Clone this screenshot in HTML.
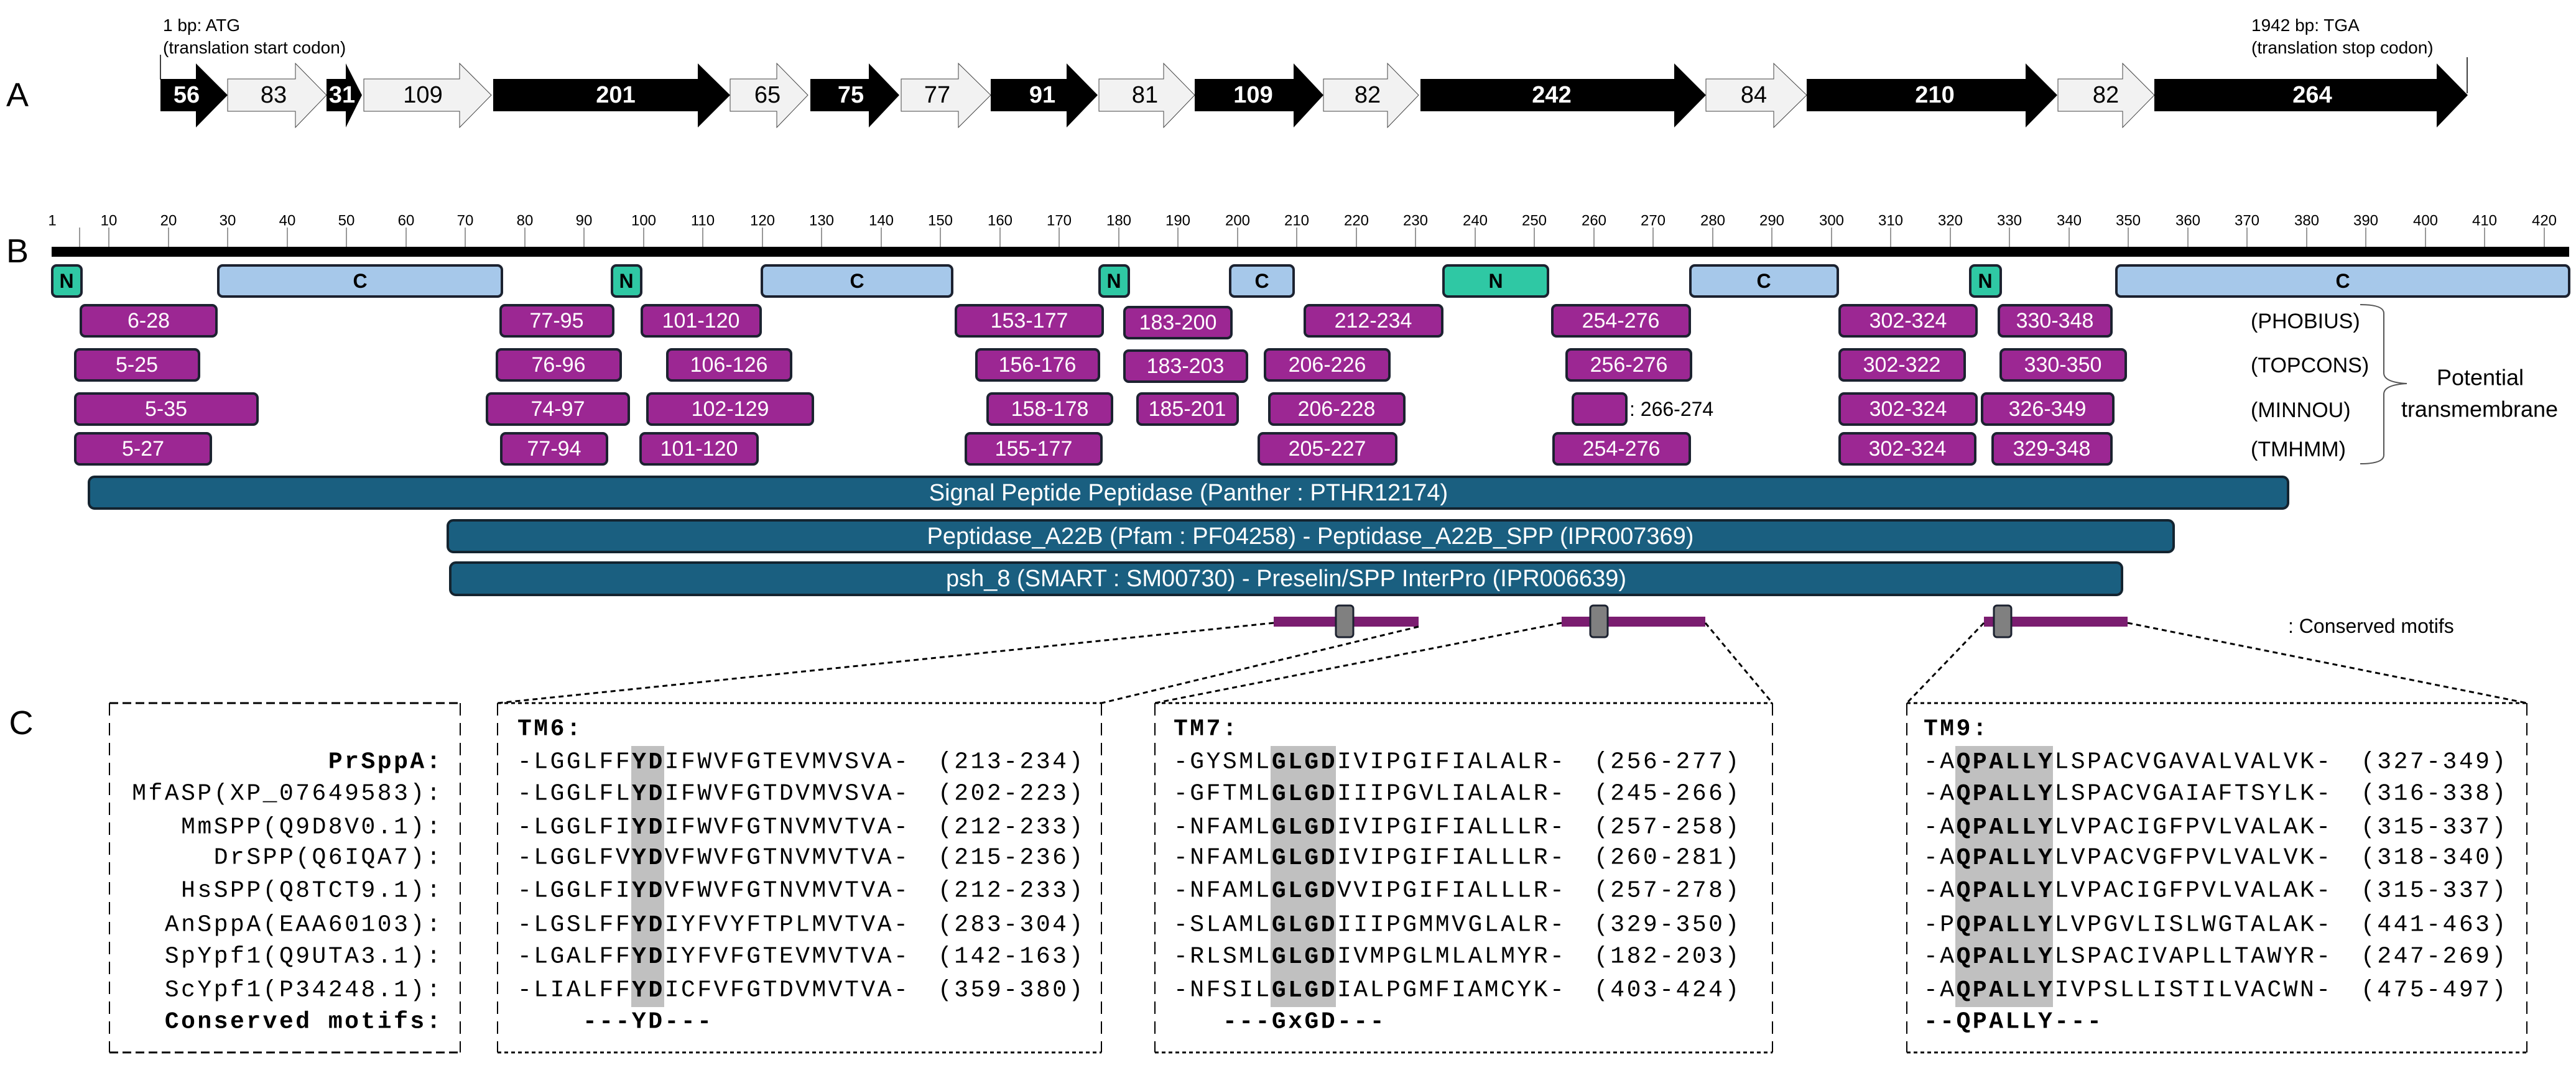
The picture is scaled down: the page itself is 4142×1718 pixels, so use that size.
<!DOCTYPE html>
<html><head><meta charset="utf-8"><style>
html,body{margin:0;padding:0;background:#fff;}
svg{display:block;}
.s{font-family:"Liberation Sans",sans-serif;}
.m{font-family:"Liberation Mono",monospace;font-size:38px;letter-spacing:3.5px;}
.tm rect{fill:#9c2793;stroke:#1c2230;stroke-width:4;}
.tm text{fill:#fff;font-family:"Liberation Sans",sans-serif;font-size:34px;text-anchor:middle;dominant-baseline:central;}
.dm rect{stroke:#1c2230;stroke-width:4;}
.dm text{font-family:"Liberation Sans",sans-serif;font-size:32px;font-weight:bold;text-anchor:middle;dominant-baseline:central;}
.bb rect{fill:#1a5f80;stroke:#142430;stroke-width:4;}
.bb text{fill:#fff;font-family:"Liberation Sans",sans-serif;font-size:38px;text-anchor:middle;dominant-baseline:central;}
</style></head><body>
<svg width="4142" height="1718" viewBox="0 0 4142 1718" xmlns="http://www.w3.org/2000/svg">
<!-- Labels -->
<g class="s" font-size="54" fill="#000" text-anchor="middle" dominant-baseline="central">
<text x="28" y="153">A</text><text x="28" y="404">B</text><text x="34" y="1163">C</text>
</g>
<!-- Annotations -->
<g class="s" font-size="28" fill="#000">
<text x="262" y="50">1 bp: ATG</text><text x="262" y="86">(translation start codon)</text>
<text x="3620" y="50">1942 bp: TGA</text><text x="3620" y="86">(translation stop codon)</text>
</g>
<line x1="258" y1="88" x2="258" y2="128" stroke="#000" stroke-width="1.5"/>
<line x1="3967" y1="92" x2="3967" y2="150" stroke="#000" stroke-width="1.5"/>
<!-- Exons -->
<g id="exons" class="s" font-size="38" text-anchor="middle" dominant-baseline="central">
<polygon points="258,127 315,127 315,102 366,153 315,205 315,179 258,179" fill="#000"/><text x="300" y="153" fill="#fff" font-weight="bold">56</text>
<polygon points="366,127 475,127 475,102 525,153 475,205 475,179 366,179" fill="#f2f2f2" stroke="#444" stroke-width="1"/><text x="440" y="153">83</text>
<polygon points="525,127 556,127 556,102 582,153 556,205 556,179 525,179" fill="#000"/><text x="550" y="153" fill="#fff" font-weight="bold">31</text>
<polygon points="585,127 739,127 739,102 790,153 739,205 739,179 585,179" fill="#f2f2f2" stroke="#444" stroke-width="1"/><text x="680" y="153">109</text>
<polygon points="793,127 1122,127 1122,102 1174,153 1122,205 1122,179 793,179" fill="#000"/><text x="990" y="153" fill="#fff" font-weight="bold">201</text>
<polygon points="1174,127 1249,127 1249,102 1299,153 1249,205 1249,179 1174,179" fill="#f2f2f2" stroke="#444" stroke-width="1"/><text x="1234" y="153">65</text>
<polygon points="1303,127 1397,127 1397,102 1446,153 1397,205 1397,179 1303,179" fill="#000"/><text x="1368" y="153" fill="#fff" font-weight="bold">75</text>
<polygon points="1449,127 1541,127 1541,102 1593,153 1541,205 1541,179 1449,179" fill="#f2f2f2" stroke="#444" stroke-width="1"/><text x="1507" y="153">77</text>
<polygon points="1593,127 1715,127 1715,102 1765,153 1715,205 1715,179 1593,179" fill="#000"/><text x="1676" y="153" fill="#fff" font-weight="bold">91</text>
<polygon points="1767,127 1871,127 1871,102 1921,153 1871,205 1871,179 1767,179" fill="#f2f2f2" stroke="#444" stroke-width="1"/><text x="1841" y="153">81</text>
<polygon points="1921,127 2080,127 2080,102 2128,153 2080,205 2080,179 1921,179" fill="#000"/><text x="2015" y="153" fill="#fff" font-weight="bold">109</text>
<polygon points="2128,127 2231,127 2231,102 2281,153 2231,205 2231,179 2128,179" fill="#f2f2f2" stroke="#444" stroke-width="1"/><text x="2199" y="153">82</text>
<polygon points="2284,127 2692,127 2692,102 2743,153 2692,205 2692,179 2284,179" fill="#000"/><text x="2495" y="153" fill="#fff" font-weight="bold">242</text>
<polygon points="2743,127 2852,127 2852,102 2905,153 2852,205 2852,179 2743,179" fill="#f2f2f2" stroke="#444" stroke-width="1"/><text x="2820" y="153">84</text>
<polygon points="2905,127 3257,127 3257,102 3308,153 3257,205 3257,179 2905,179" fill="#000"/><text x="3111" y="153" fill="#fff" font-weight="bold">210</text>
<polygon points="3309,127 3413,127 3413,102 3464,153 3413,205 3413,179 3309,179" fill="#f2f2f2" stroke="#444" stroke-width="1"/><text x="3386" y="153">82</text>
<polygon points="3464,127 3918,127 3918,102 3968,153 3918,205 3918,179 3464,179" fill="#000"/><text x="3718" y="153" fill="#fff" font-weight="bold">264</text>
</g>
<!-- Ruler -->
<g stroke="#777" stroke-width="1.5">
<line x1="128" y1="366" x2="128" y2="398"/>
<line x1="175" y1="366" x2="175" y2="398"/><line x1="271" y1="366" x2="271" y2="398"/><line x1="366" y1="366" x2="366" y2="398"/><line x1="462" y1="366" x2="462" y2="398"/><line x1="557" y1="366" x2="557" y2="398"/><line x1="653" y1="366" x2="653" y2="398"/><line x1="748" y1="366" x2="748" y2="398"/><line x1="844" y1="366" x2="844" y2="398"/><line x1="939" y1="366" x2="939" y2="398"/><line x1="1035" y1="366" x2="1035" y2="398"/><line x1="1130" y1="366" x2="1130" y2="398"/><line x1="1226" y1="366" x2="1226" y2="398"/><line x1="1321" y1="366" x2="1321" y2="398"/><line x1="1417" y1="366" x2="1417" y2="398"/><line x1="1512" y1="366" x2="1512" y2="398"/><line x1="1608" y1="366" x2="1608" y2="398"/><line x1="1703" y1="366" x2="1703" y2="398"/><line x1="1799" y1="366" x2="1799" y2="398"/><line x1="1894" y1="366" x2="1894" y2="398"/><line x1="1990" y1="366" x2="1990" y2="398"/><line x1="2085" y1="366" x2="2085" y2="398"/><line x1="2181" y1="366" x2="2181" y2="398"/><line x1="2276" y1="366" x2="2276" y2="398"/><line x1="2372" y1="366" x2="2372" y2="398"/><line x1="2467" y1="366" x2="2467" y2="398"/><line x1="2563" y1="366" x2="2563" y2="398"/><line x1="2658" y1="366" x2="2658" y2="398"/><line x1="2754" y1="366" x2="2754" y2="398"/><line x1="2849" y1="366" x2="2849" y2="398"/><line x1="2945" y1="366" x2="2945" y2="398"/><line x1="3040" y1="366" x2="3040" y2="398"/><line x1="3136" y1="366" x2="3136" y2="398"/><line x1="3231" y1="366" x2="3231" y2="398"/><line x1="3327" y1="366" x2="3327" y2="398"/><line x1="3422" y1="366" x2="3422" y2="398"/><line x1="3518" y1="366" x2="3518" y2="398"/><line x1="3613" y1="366" x2="3613" y2="398"/><line x1="3709" y1="366" x2="3709" y2="398"/><line x1="3804" y1="366" x2="3804" y2="398"/><line x1="3900" y1="366" x2="3900" y2="398"/><line x1="3995" y1="366" x2="3995" y2="398"/><line x1="4091" y1="366" x2="4091" y2="398"/>
</g>
<g class="s" font-size="24" text-anchor="middle" dominant-baseline="central" fill="#000">
<text x="84" y="355">1</text><text x="175" y="355">10</text><text x="271" y="355">20</text><text x="366" y="355">30</text><text x="462" y="355">40</text><text x="557" y="355">50</text><text x="653" y="355">60</text><text x="748" y="355">70</text><text x="844" y="355">80</text><text x="939" y="355">90</text><text x="1035" y="355">100</text><text x="1130" y="355">110</text><text x="1226" y="355">120</text><text x="1321" y="355">130</text><text x="1417" y="355">140</text><text x="1512" y="355">150</text><text x="1608" y="355">160</text><text x="1703" y="355">170</text><text x="1799" y="355">180</text><text x="1894" y="355">190</text><text x="1990" y="355">200</text><text x="2085" y="355">210</text><text x="2181" y="355">220</text><text x="2276" y="355">230</text><text x="2372" y="355">240</text><text x="2467" y="355">250</text><text x="2563" y="355">260</text><text x="2658" y="355">270</text><text x="2754" y="355">280</text><text x="2849" y="355">290</text><text x="2945" y="355">300</text><text x="3040" y="355">310</text><text x="3136" y="355">320</text><text x="3231" y="355">330</text><text x="3327" y="355">340</text><text x="3422" y="355">350</text><text x="3518" y="355">360</text><text x="3613" y="355">370</text><text x="3709" y="355">380</text><text x="3804" y="355">390</text><text x="3900" y="355">400</text><text x="3995" y="355">410</text><text x="4091" y="355">420</text>
</g>
<rect x="83" y="397" width="4048" height="16" fill="#000"/>
<!-- N / C domains -->
<g class="dm">
<rect x="84" y="427" width="47" height="50" rx="7" fill="#2fc8a4"/><text x="107" y="452">N</text>
<rect x="351" y="427" width="456" height="50" rx="7" fill="#a6c8ea"/><text x="579" y="452">C</text>
<rect x="984" y="427" width="47" height="50" rx="7" fill="#2fc8a4"/><text x="1007" y="452">N</text>
<rect x="1225" y="427" width="306" height="50" rx="7" fill="#a6c8ea"/><text x="1378" y="452">C</text>
<rect x="1768" y="427" width="47" height="50" rx="7" fill="#2fc8a4"/><text x="1791" y="452">N</text>
<rect x="1978" y="427" width="102" height="50" rx="7" fill="#a6c8ea"/><text x="2029" y="452">C</text>
<rect x="2321" y="427" width="168" height="50" rx="7" fill="#2fc8a4"/><text x="2405" y="452">N</text>
<rect x="2718" y="427" width="237" height="50" rx="7" fill="#a6c8ea"/><text x="2836" y="452">C</text>
<rect x="3168" y="427" width="49" height="50" rx="7" fill="#2fc8a4"/><text x="3192" y="452">N</text>
<rect x="3403" y="427" width="728" height="50" rx="7" fill="#a6c8ea"/><text x="3767" y="452">C</text>
</g>
<!-- TM boxes -->
<g class="tm">
<rect x="130" y="491" width="218" height="50" rx="7"/><text x="239" y="516">6-28</text>
<rect x="805" y="491" width="181" height="50" rx="7"/><text x="895" y="516">77-95</text>
<rect x="1032" y="491" width="191" height="50" rx="7"/><text x="1127" y="516">101-120</text>
<rect x="1537" y="491" width="236" height="50" rx="7"/><text x="1655" y="516">153-177</text>
<rect x="1808" y="494" width="172" height="50" rx="7"/><text x="1894" y="519">183-200</text>
<rect x="2098" y="491" width="221" height="50" rx="7"/><text x="2208" y="516">212-234</text>
<rect x="2496" y="491" width="221" height="50" rx="7"/><text x="2606" y="516">254-276</text>
<rect x="2958" y="491" width="220" height="50" rx="7"/><text x="3068" y="516">302-324</text>
<rect x="3214" y="491" width="181" height="50" rx="7"/><text x="3304" y="516">330-348</text>

<rect x="121" y="562" width="199" height="50" rx="7"/><text x="220" y="587">5-25</text>
<rect x="799" y="562" width="199" height="50" rx="7"/><text x="898" y="587">76-96</text>
<rect x="1073" y="562" width="199" height="50" rx="7"/><text x="1172" y="587">106-126</text>
<rect x="1570" y="562" width="197" height="50" rx="7"/><text x="1668" y="587">156-176</text>
<rect x="1808" y="564" width="197" height="50" rx="7"/><text x="1906" y="589">183-203</text>
<rect x="2034" y="562" width="200" height="50" rx="7"/><text x="2134" y="587">206-226</text>
<rect x="2519" y="562" width="200" height="50" rx="7"/><text x="2619" y="587">256-276</text>
<rect x="2958" y="562" width="201" height="50" rx="7"/><text x="3058" y="587">302-322</text>
<rect x="3217" y="562" width="201" height="50" rx="7"/><text x="3317" y="587">330-350</text>

<rect x="121" y="633" width="293" height="50" rx="7"/><text x="267" y="658">5-35</text>
<rect x="783" y="633" width="228" height="50" rx="7"/><text x="897" y="658">74-97</text>
<rect x="1041" y="633" width="266" height="50" rx="7"/><text x="1174" y="658">102-129</text>
<rect x="1588" y="633" width="200" height="50" rx="7"/><text x="1688" y="658">158-178</text>
<rect x="1829" y="633" width="161" height="50" rx="7"/><text x="1909" y="658">185-201</text>
<rect x="2041" y="633" width="217" height="50" rx="7"/><text x="2149" y="658">206-228</text>
<rect x="2529" y="633" width="86" height="50" rx="7"/>
<rect x="2958" y="633" width="220" height="50" rx="7"/><text x="3068" y="658">302-324</text>
<rect x="3187" y="633" width="211" height="50" rx="7"/><text x="3292" y="658">326-349</text>

<rect x="121" y="697" width="218" height="50" rx="7"/><text x="230" y="722">5-27</text>
<rect x="806" y="697" width="170" height="50" rx="7"/><text x="891" y="722">77-94</text>
<rect x="1030" y="697" width="188" height="50" rx="7"/><text x="1124" y="722">101-120</text>
<rect x="1553" y="697" width="218" height="50" rx="7"/><text x="1662" y="722">155-177</text>
<rect x="2024" y="697" width="221" height="50" rx="7"/><text x="2134" y="722">205-227</text>
<rect x="2498" y="697" width="219" height="50" rx="7"/><text x="2607" y="722">254-276</text>
<rect x="2958" y="697" width="218" height="50" rx="7"/><text x="3067" y="722">302-324</text>
<rect x="3204" y="697" width="191" height="50" rx="7"/><text x="3299" y="722">329-348</text>
</g>
<text x="2620" y="658" class="s" font-size="32" dominant-baseline="central">: 266-274</text>
<!-- Tool labels + brace -->
<g class="s" font-size="34" dominant-baseline="central" fill="#000">
<text x="3619" y="517">(PHOBIUS)</text><text x="3619" y="588">(TOPCONS)</text><text x="3619" y="660">(MINNOU)</text><text x="3619" y="723">(TMHMM)</text>
<text x="3988" y="607" text-anchor="middle" font-size="36">Potential</text>
<text x="3987" y="658" text-anchor="middle" font-size="36">transmembrane</text>
</g>
<path d="M3795,490 q38,0 38,14 L3833,600 q0,15 37,17 q-37,2 -37,17 L3833,732 q0,14 -38,14" fill="none" stroke="#555" stroke-width="2"/>
<!-- Blue bars -->
<g class="bb">
<rect x="143" y="767" width="3536" height="51" rx="9"/><text x="1911" y="793">Signal Peptide Peptidase (Panther : PTHR12174)</text>
<rect x="720" y="837" width="2775" height="51" rx="9"/><text x="2107" y="863">Peptidase_A22B (Pfam : PF04258) - Peptidase_A22B_SPP (IPR007369)</text>
<rect x="724" y="905" width="2688" height="52" rx="9"/><text x="2068" y="931">psh_8 (SMART : SM00730) - Preselin/SPP InterPro (IPR006639)</text>
</g>
<!-- Motif bars -->
<g>
<rect x="2048" y="992" width="233" height="16" fill="#7b1d70"/>
<rect x="2148" y="974" width="28" height="51" rx="5" fill="#808080" stroke="#1c2230" stroke-width="3"/>
<rect x="2511" y="992" width="231" height="16" fill="#7b1d70"/>
<rect x="2557" y="974" width="28" height="51" rx="5" fill="#808080" stroke="#1c2230" stroke-width="3"/>
<rect x="3190" y="992" width="231" height="16" fill="#7b1d70"/>
<rect x="3206" y="974" width="28" height="51" rx="5" fill="#808080" stroke="#1c2230" stroke-width="3"/>
</g>
<text x="3679" y="1007" class="s" font-size="32" dominant-baseline="central">: Conserved motifs</text>
<!-- connectors -->
<g stroke="#000" stroke-width="3" stroke-dasharray="8,6" fill="none">
<line x1="2048" y1="1002" x2="800" y2="1131"/>
<line x1="2281" y1="1008" x2="1771" y2="1131"/>
<line x1="2511" y1="1002" x2="1857" y2="1131"/>
<line x1="2742" y1="1002" x2="2850" y2="1131"/>
<line x1="3190" y1="1002" x2="3066" y2="1131"/>
<line x1="3421" y1="1002" x2="4063" y2="1131"/>
</g>
<!-- boxes -->
<g fill="none" stroke="#000">
<line x1="176" y1="1131" x2="740" y2="1131" stroke-width="3" stroke-dasharray="14,7"/>
<line x1="176" y1="1693" x2="740" y2="1693" stroke-width="3" stroke-dasharray="14,7"/>
<line x1="176" y1="1131" x2="176" y2="1693" stroke-width="2" stroke-dasharray="20,12"/>
<line x1="740" y1="1131" x2="740" y2="1693" stroke-width="2" stroke-dasharray="20,12"/>

<line x1="800" y1="1131" x2="1771" y2="1131" stroke-width="3" stroke-dasharray="6,5"/>
<line x1="800" y1="1693" x2="1771" y2="1693" stroke-width="3" stroke-dasharray="6,5"/>
<line x1="800" y1="1131" x2="800" y2="1693" stroke-width="2" stroke-dasharray="20,12"/>
<line x1="1771" y1="1131" x2="1771" y2="1693" stroke-width="2" stroke-dasharray="20,12"/>

<line x1="1857" y1="1131" x2="2850" y2="1131" stroke-width="3" stroke-dasharray="6,5"/>
<line x1="1857" y1="1693" x2="2850" y2="1693" stroke-width="3" stroke-dasharray="6,5"/>
<line x1="1857" y1="1131" x2="1857" y2="1693" stroke-width="2" stroke-dasharray="20,12"/>
<line x1="2850" y1="1131" x2="2850" y2="1693" stroke-width="2" stroke-dasharray="20,12"/>

<line x1="3066" y1="1131" x2="4063" y2="1131" stroke-width="3" stroke-dasharray="6,5"/>
<line x1="3066" y1="1693" x2="4063" y2="1693" stroke-width="3" stroke-dasharray="6,5"/>
<line x1="3066" y1="1131" x2="3066" y2="1693" stroke-width="2" stroke-dasharray="20,12"/>
<line x1="4063" y1="1131" x2="4063" y2="1693" stroke-width="2" stroke-dasharray="20,12"/>
</g>
<!-- highlights -->
<rect x="1015" y="1200" width="53" height="420" fill="#c0c0c0"/>
<rect x="2043" y="1200" width="105" height="420" fill="#c0c0c0"/>
<rect x="3144" y="1200" width="157" height="420" fill="#c0c0c0"/>
<!-- names -->
<g class="m" text-anchor="end" dominant-baseline="central" fill="#000">
<text x="712" y="1226" font-weight="bold">PrSppA:</text>
<text x="712" y="1277">MfASP(XP_07649583):</text>
<text x="712" y="1331">MmSPP(Q9D8V0.1):</text>
<text x="712" y="1380">DrSPP(Q6IQA7):</text>
<text x="712" y="1433">HsSPP(Q8TCT9.1):</text>
<text x="712" y="1488">AnSppA(EAA60103):</text>
<text x="712" y="1539">SpYpf1(Q9UTA3.1):</text>
<text x="712" y="1593">ScYpf1(P34248.1):</text>
<text x="712" y="1644" font-weight="bold">Conserved motifs:</text>
</g>
<!-- TM6 -->
<g class="m" dominant-baseline="central" fill="#000">
<text x="832" y="1173" font-weight="bold">TM6:</text>
<text x="832" y="1226">-LGGLFF<tspan font-weight="bold">YD</tspan>IFWVFGTEVMVSVA-</text><text x="1508" y="1226">(213-234)</text>
<text x="832" y="1277">-LGGLFL<tspan font-weight="bold">YD</tspan>IFWVFGTDVMVSVA-</text><text x="1508" y="1277">(202-223)</text>
<text x="832" y="1331">-LGGLFI<tspan font-weight="bold">YD</tspan>IFWVFGTNVMVTVA-</text><text x="1508" y="1331">(212-233)</text>
<text x="832" y="1380">-LGGLFV<tspan font-weight="bold">YD</tspan>VFWVFGTNVMVTVA-</text><text x="1508" y="1380">(215-236)</text>
<text x="832" y="1433">-LGGLFI<tspan font-weight="bold">YD</tspan>VFWVFGTNVMVTVA-</text><text x="1508" y="1433">(212-233)</text>
<text x="832" y="1488">-LGSLFF<tspan font-weight="bold">YD</tspan>IYFVYFTPLMVTVA-</text><text x="1508" y="1488">(283-304)</text>
<text x="832" y="1539">-LGALFF<tspan font-weight="bold">YD</tspan>IYFVFGTEVMVTVA-</text><text x="1508" y="1539">(142-163)</text>
<text x="832" y="1593">-LIALFF<tspan font-weight="bold">YD</tspan>ICFVFGTDVMVTVA-</text><text x="1508" y="1593">(359-380)</text>
<text x="937" y="1644" font-weight="bold">---YD---</text>
</g>
<!-- TM7 -->
<g class="m" dominant-baseline="central" fill="#000">
<text x="1887" y="1173" font-weight="bold">TM7:</text>
<text x="1887" y="1226">-GYSML<tspan font-weight="bold">GLGD</tspan>IVIPGIFIALALR-</text><text x="2563" y="1226">(256-277)</text>
<text x="1887" y="1277">-GFTML<tspan font-weight="bold">GLGD</tspan>IIIPGVLIALALR-</text><text x="2563" y="1277">(245-266)</text>
<text x="1887" y="1331">-NFAML<tspan font-weight="bold">GLGD</tspan>IVIPGIFIALLLR-</text><text x="2563" y="1331">(257-258)</text>
<text x="1887" y="1380">-NFAML<tspan font-weight="bold">GLGD</tspan>IVIPGIFIALLLR-</text><text x="2563" y="1380">(260-281)</text>
<text x="1887" y="1433">-NFAML<tspan font-weight="bold">GLGD</tspan>VVIPGIFIALLLR-</text><text x="2563" y="1433">(257-278)</text>
<text x="1887" y="1488">-SLAML<tspan font-weight="bold">GLGD</tspan>IIIPGMMVGLALR-</text><text x="2563" y="1488">(329-350)</text>
<text x="1887" y="1539">-RLSML<tspan font-weight="bold">GLGD</tspan>IVMPGLMLALMYR-</text><text x="2563" y="1539">(182-203)</text>
<text x="1887" y="1593">-NFSIL<tspan font-weight="bold">GLGD</tspan>IALPGMFIAMCYK-</text><text x="2563" y="1593">(403-424)</text>
<text x="1966" y="1644" font-weight="bold">---GxGD---</text>
</g>
<!-- TM9 -->
<g class="m" dominant-baseline="central" fill="#000">
<text x="3093" y="1173" font-weight="bold">TM9:</text>
<text x="3093" y="1226">-A<tspan font-weight="bold">QPALLY</tspan>LSPACVGAVALVALVK-</text><text x="3796" y="1226">(327-349)</text>
<text x="3093" y="1277">-A<tspan font-weight="bold">QPALLY</tspan>LSPACVGAIAFTSYLK-</text><text x="3796" y="1277">(316-338)</text>
<text x="3093" y="1331">-A<tspan font-weight="bold">QPALLY</tspan>LVPACIGFPVLVALAK-</text><text x="3796" y="1331">(315-337)</text>
<text x="3093" y="1380">-A<tspan font-weight="bold">QPALLY</tspan>LVPACVGFPVLVALVK-</text><text x="3796" y="1380">(318-340)</text>
<text x="3093" y="1433">-A<tspan font-weight="bold">QPALLY</tspan>LVPACIGFPVLVALAK-</text><text x="3796" y="1433">(315-337)</text>
<text x="3093" y="1488">-P<tspan font-weight="bold">QPALLY</tspan>LVPGVLISLWGTALAK-</text><text x="3796" y="1488">(441-463)</text>
<text x="3093" y="1539">-A<tspan font-weight="bold">QPALLY</tspan>LSPACIVAPLLTAWYR-</text><text x="3796" y="1539">(247-269)</text>
<text x="3093" y="1593">-A<tspan font-weight="bold">QPALLY</tspan>IVPSLLISTILVACWN-</text><text x="3796" y="1593">(475-497)</text>
<text x="3093" y="1644" font-weight="bold">--QPALLY---</text>
</g>
</svg>
</body></html>
